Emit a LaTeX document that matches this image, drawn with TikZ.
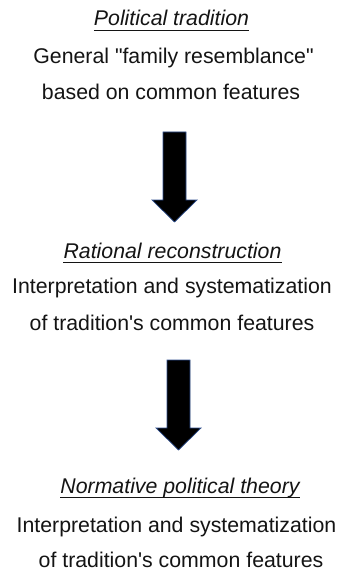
\documentclass[tikz,border=0pt]{standalone}
\usepackage{fontspec}
\setmainfont{Liberation Sans}[Ligatures=TeXOff]
\definecolor{txt}{HTML}{141414}
\definecolor{edge}{HTML}{2F4F8F}
\begin{document}
\begin{tikzpicture}[x=1pt,y=-1pt,
  lbl/.style={anchor=base,inner sep=0pt,text=txt,font=\fontsize{21.3}{25}\selectfont},
  ttl/.style={lbl,font=\fontsize{21.3}{25}\selectfont\itshape},
  uline/.style={draw=txt,line width=1.5pt},
  blockarrow/.style={fill=black,draw=edge,line width=0.7pt,line join=miter}]
\fill[white] (0,0) rectangle (344,572);
\useasboundingbox (0,0) rectangle (344,572);
% group 1
\node[ttl] (t1) at (171.5,26) {Political tradition};
\node[lbl] (a1) at (173.5,64) {General "family resemblance"};
\node[lbl] (b1) at (171,100) {based on common features};
% group 2
\node[ttl] (t2) at (172.5,258) {Rational reconstruction};
\node[lbl] (a2) at (172,293) {Interpretation and systematization};
\node[lbl] (b2) at (172,330) {of tradition's common features};
% group 3
\node[ttl] (t3) at (180,493) {Normative political theory};
\node[lbl] (a3) at (176.5,532) {Interpretation and systematization};
\node[lbl] (b3) at (181,567) {of tradition's common features};
% underlines
\foreach \t in {t1,t2,t3}
  \draw[uline] ([yshift=-4.5pt]\t.base west) -- ([yshift=-4.5pt]\t.base east);
% arrows
\draw[blockarrow] (163,132) -- (186,132) -- (186,200) -- (197,200) -- (174.5,222) -- (152,200) -- (163,200) -- cycle;
\draw[blockarrow] (167,360) -- (190,360) -- (190,428) -- (201,428) -- (178.5,450) -- (156,428) -- (167,428) -- cycle;
\end{tikzpicture}
\end{document}
